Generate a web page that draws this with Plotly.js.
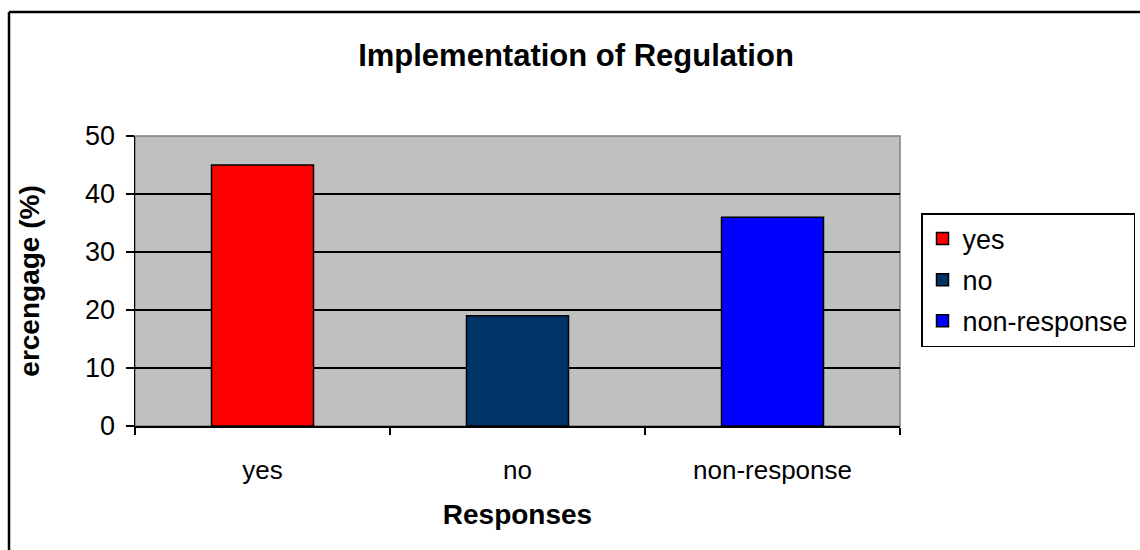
<!DOCTYPE html>
<html>
<head>
<meta charset="utf-8">
<script src="https://cdn.plot.ly/plotly-3.0.1.min.js"></script>
<style>
  html, body { margin: 0; padding: 0; background: #fff; }
  #chart { width: 1140px; height: 550px; }
</style>
</head>
<body>
<div id="chart"></div>
<script>
const categories = ["yes", "no", "non-response"];
const values = [45, 19, 36];
const colors = ["#FF0000", "#003366", "#0000FF"];
const chartTitle = "Implementation of Regulation";
const xTitle = "Responses";
const yTitle = "ercengage (%)";
const yTicks = [0, 10, 20, 30, 40, 50];

const font = "Liberation Sans, Arial, sans-serif";

const traces = categories.map((c, i) => ({
  type: "bar",
  name: c,
  legendgroup: c,
  x: [c],
  y: [values[i]],
  marker: { color: colors[i], line: { color: "#000", width: 1.5 } },
  hoverinfo: "x+y"
}));

const layout = {
  width: 1140,
  height: 550,
  margin: { l: 135, r: 240, t: 136, b: 124, autoexpand: false },
  paper_bgcolor: "#ffffff",
  plot_bgcolor: "#C0C0C0",
  barmode: "overlay",
  bargap: 0.6,
  showlegend: true,
  title: {
    text: "<b>" + chartTitle + "</b>",
    font: { family: font, size: 31, color: "#000" },
    x: 576 / 1140, xanchor: "center", xref: "container",
    y: 1 - 55 / 550, yanchor: "middle", yref: "container"
  },
  xaxis: {
    type: "category",
    categoryorder: "array",
    categoryarray: categories,
    tickson: "boundaries",
    ticks: "outside",
    ticklen: 7,
    tickwidth: 1.5,
    tickcolor: "#000",
    showline: true,
    linecolor: "#000",
    linewidth: 1.5,
    showgrid: false,
    tickfont: { family: font, size: 26, color: "#000" },
    ticklabelstandoff: 20,
    title: {
      text: "<b>" + xTitle + "</b>",
      font: { family: font, size: 28, color: "#000" },
      standoff: 20
    }
  },
  yaxis: {
    range: [0, 50],
    tickvals: yTicks,
    ticks: "outside",
    ticklen: 8,
    tickwidth: 1.5,
    tickcolor: "#000",
    showline: true,
    linecolor: "#000",
    linewidth: 1.5,
    showgrid: true,
    gridcolor: "#000",
    gridwidth: 1.5,
    zeroline: false,
    tickfont: { family: font, size: 27, color: "#000" },
    ticklabelstandoff: 5,
    title: {
      text: "<b>" + yTitle + "</b>",
      font: { family: font, size: 28, color: "#000" },
      standoff: 37
    }
  },
  legend: {
    x: (921 - 135) / 765,
    xanchor: "left",
    y: (426 - 213) / 290,
    yanchor: "top",
    bgcolor: "#ffffff",
    bordercolor: "#000",
    borderwidth: 1.5,
    font: { family: font, size: 27, color: "#000" },
    itemwidth: 30,
    tracegroupgap: 3
  },
  shapes: [
    { type: "rect", xref: "paper", yref: "paper", x0: 0, x1: 1, y0: 0, y1: 1,
      line: { color: "#808080", width: 1.5 }, layer: "below" },
    { type: "line", xref: "paper", yref: "paper",
      x0: (9 - 135) / 765, x1: (9 - 135) / 765, y0: (426 - 12) / 290, y1: (426 - 560) / 290,
      line: { color: "#000", width: 2.5 } },
    { type: "line", xref: "paper", yref: "paper",
      x0: (9 - 135) / 765, x1: (1150 - 135) / 765, y0: (426 - 12) / 290, y1: (426 - 12) / 290,
      line: { color: "#000", width: 2.5 } }
  ]
};

Plotly.newPlot("chart", traces, layout, { displayModeBar: false, staticPlot: true });
</script>
</body>
</html>
